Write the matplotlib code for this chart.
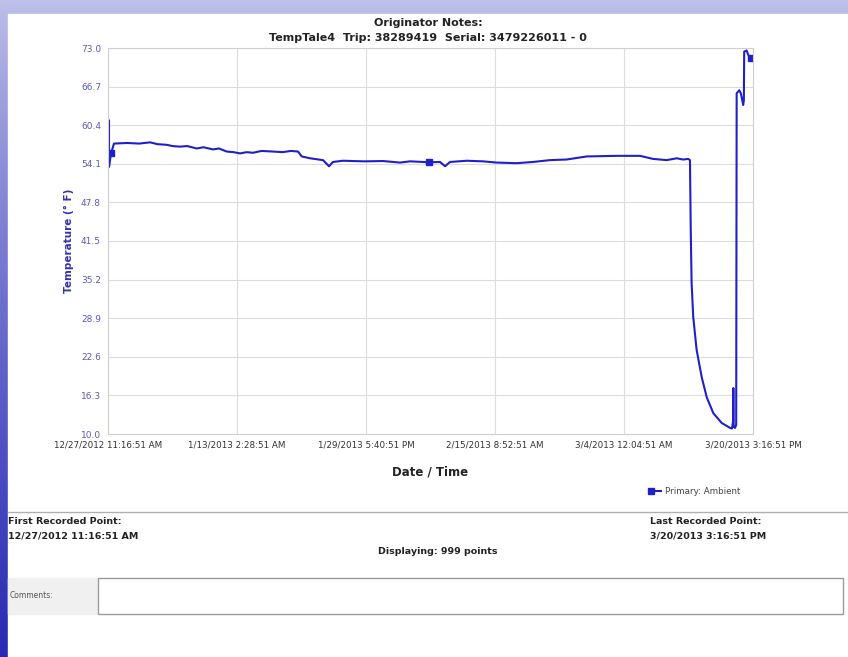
import numpy as np
import pandas as pd
import matplotlib
matplotlib.use("Agg")
import matplotlib.pyplot as plt
from matplotlib.patches import Rectangle
from matplotlib.lines import Line2D

# elapsed days since first recorded point, and temperature (deg F)
start = pd.Timestamp("2012-12-27 11:16:51")
days = [0.0, 0.13, 0.13, 0.39, 0.77, 2.5, 4.0, 5.42, 6.4, 7.57, 8.3, 9.28, 10.2, 11.44,
        12.3, 13.54, 14.3, 15.31, 16.2, 17.02, 17.9, 18.7, 19.8, 21.28, 22.5, 23.6, 24.5,
        24.98, 26.05, 27.72, 28.5, 29.0, 30.3, 33.0, 35.45, 37.65, 38.94, 41.43, 42.81,
        43.46, 44.1, 46.25, 48.35, 50.12, 52.7, 54.8, 56.99, 59.14, 61.72, 65.59, 68.6,
        70.27, 72.04, 73.33, 74.14, 74.82, 75.04, 75.14, 75.25, 75.46, 75.9, 76.55, 77.2,
        78.05, 79.13, 80.2, 80.46, 80.59, 80.63, 80.68, 80.85, 81.0, 81.06, 81.39, 81.6,
        81.9, 81.99, 82.03, 82.34, 82.55, 82.86, 83.17]
temps = [61.2, 61.2, 53.6, 55.8, 57.4, 57.5, 57.4, 57.6, 57.3, 57.2, 57.0, 56.9, 57.0, 56.6,
         56.8, 56.45, 56.6, 56.1, 56.0, 55.8, 56.0, 55.9, 56.2, 56.1, 56.0, 56.2, 56.1,
         55.3, 55.0, 54.7, 53.7, 54.4, 54.6, 54.5, 54.55, 54.3, 54.5, 54.35, 54.4,
         53.7, 54.4, 54.6, 54.5, 54.3, 54.2, 54.4, 54.7, 54.8, 55.3, 55.4, 55.4,
         54.9, 54.7, 55.0, 54.8, 54.9, 54.7, 43.3, 34.7, 29.1, 23.7, 19.3, 16.0,
         13.4, 11.8, 11.0, 10.9, 12.0, 17.5, 11.2, 11.0, 11.5, 65.6, 66.1, 65.6,
         63.7, 64.5, 72.4, 72.6, 71.9, 71.3, 71.4]
marker_days = [0.39, 41.43, 82.86]
marker_temps = [55.8, 54.35, 71.3]

y_ticks = [10.0, 16.3, 22.6, 28.9, 35.2, 41.5, 47.8, 54.1, 60.4, 66.7, 73.0]
x_tick_labels = ["12/27/2012 11:16:51 AM", "1/13/2013 2:28:51 AM", "1/29/2013 5:40:51 PM",
                 "2/15/2013 8:52:51 AM", "3/4/2013 12:04:51 AM", "3/20/2013 3:16:51 PM"]

times = start + pd.to_timedelta(days, unit="D")
mtimes = start + pd.to_timedelta(marker_days, unit="D")
x_ticks = pd.to_datetime(x_tick_labels, format="%m/%d/%Y %I:%M:%S %p")

W, H = 848, 657
fig = plt.figure(figsize=(W / 100, H / 100), dpi=100)

# slide background (blue gradient) behind the white report
bg = fig.add_axes([0, 0, 1, 1], zorder=-10)
grad = np.linspace(0, 1, 256).reshape(-1, 1)
c_top = np.array([0.75, 0.76, 0.92])
c_bot = np.array([0.16, 0.16, 0.70])
img = c_top + (c_bot - c_top) * grad[..., None] ** 0.8
img = np.repeat(img, 4, axis=1)
bg.imshow(img, aspect="auto", extent=[0, 1, 0, 1])
bg.add_patch(Rectangle((8 / W, 0), 1, 1 - 14 / H, color="white"))
bg.set_xlim(0, 1)
bg.set_ylim(0, 1)
bg.axis("off")

line_col = "#2020c8"
ax = fig.add_axes([108 / W, 1 - 434 / H, 645 / W, 386 / H])
ax.plot(times, temps, color=line_col, lw=1.5)
ax.plot(mtimes, marker_temps, "s", color=line_col, ms=5, ls="none")
ax.set_ylim(10, 73)
ax.set_xlim(x_ticks[0], x_ticks[-1])
ax.set_yticks(y_ticks)
ax.set_yticklabels([f"{v:.1f}" for v in y_ticks], color="#5a5ab8", fontsize=6.5)
ax.set_xticks(x_ticks)
ax.set_xticklabels(x_tick_labels, fontsize=6.3, color="#333333")
ax.tick_params(length=0, pad=5)
ax.grid(True, color="#dcdcdc", lw=0.8)
for s in ax.spines.values():
    s.set_color("#cfcfcf")
ax.set_ylabel("Temperature (° F)", color="#3434a8", fontsize=7.5, fontweight="bold", labelpad=5)
ax.set_xlabel("Date / Time", fontsize=8.5, fontweight="bold", color="#222222", labelpad=11)

def txt(x, y, s, **kw):
    fig.text(x / W, 1 - y / H, s, va="center", **kw)

txt(428, 23, "Originator Notes:", ha="center", fontsize=8, fontweight="bold", color="#222222")
txt(428, 38, "TempTale4  Trip: 38289419  Serial: 3479226011 - 0", ha="center",
    fontsize=8, fontweight="bold", color="#222222")

# legend
fig.add_artist(Line2D([651 / W, 661 / W], [1 - 491 / H] * 2, color=line_col, lw=1.5,
                      marker="s", ms=5, markevery=[0]))
txt(665, 491, "Primary: Ambient", ha="left", fontsize=6.3, color="#444444")

fig.add_artist(Line2D([8 / W, 1], [1 - 512 / H] * 2, color="#b0b0b0", lw=1))
txt(8, 521, "First Recorded Point:", ha="left", fontsize=6.8, fontweight="bold", color="#222222")
txt(8, 536, "12/27/2012 11:16:51 AM", ha="left", fontsize=6.8, fontweight="bold", color="#222222")
txt(650, 521, "Last Recorded Point:", ha="left", fontsize=6.8, fontweight="bold", color="#222222")
txt(650, 536, "3/20/2013 3:16:51 PM", ha="left", fontsize=6.8, fontweight="bold", color="#222222")
txt(438, 551, "Displaying: 999 points", ha="center", fontsize=6.8, fontweight="bold", color="#222222")

# comments box
bg.add_patch(Rectangle((8 / W, 1 - 614 / H), 90 / W, 36 / H, color="#f0f0f0"))
bg.add_patch(Rectangle((98 / W, 1 - 614 / H), 745 / W, 36 / H, facecolor="white",
                       edgecolor="#9a9a9a", lw=1))
txt(10, 596, "Comments:", ha="left", fontsize=5.5, color="#555555")

fig.savefig("out.png", dpi=100)
